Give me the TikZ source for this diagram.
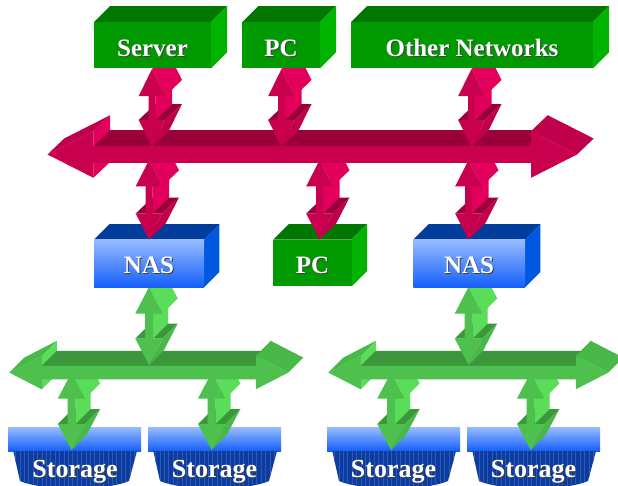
\documentclass[tikz,border=0pt]{standalone}
\usepackage{fontspec}
\setmainfont{Liberation Serif}
\definecolor{mgfront}{RGB}{200,0,78}
\definecolor{mgdark}{RGB}{153,0,58}
\definecolor{mglight}{RGB}{226,0,92}
\definecolor{mgmid}{RGB}{192,0,74}
\definecolor{gnfront}{RGB}{77,192,77}
\definecolor{gndark}{RGB}{60,150,60}
\definecolor{gnlight}{RGB}{90,222,90}
\definecolor{gnmid}{RGB}{72,184,72}
\definecolor{boxfront}{RGB}{0,153,0}
\definecolor{boxtop}{RGB}{0,119,0}
\definecolor{boxside}{RGB}{0,179,0}
\definecolor{nastop}{RGB}{0,60,156}
\definecolor{nasside}{RGB}{0,88,224}
\definecolor{nashi}{RGB}{152,188,255}
\definecolor{naslo}{RGB}{20,95,250}
\definecolor{stdark}{RGB}{12,60,158}
\definecolor{ststripe}{RGB}{45,88,185}
\newcommand\vdarrow[9]{%
 \fill[#9dark] ({#1-#5},{#3-#4}) -- ({#1+#5},{#3-#4}) -- ({#1+#5+#7},{#3-#4-#8}) -- ({#1-#5+#7},{#3-#4-#8}) -- cycle;
 \fill[#9light] ({#1+#6},{#2+#4}) -- ({#1+#6},{#3-#4}) -- ({#1+#6+#7},{#3-#4-#8}) -- ({#1+#6+#7},{#2+#4-#8}) -- cycle;
 \fill[#9light] (#1,#2) -- ({#1+#5},{#2+#4}) -- ({#1+#5+#7},{#2+#4-#8}) -- ({#1+#7},{#2-#8}) -- cycle;
 \fill[#9mid] ({#1+#5},{#3-#4}) -- (#1,#3) -- ({#1+#7},{#3-#8}) -- ({#1+#5+#7},{#3-#4-#8}) -- cycle;
 \fill[#9front] (#1,#2) -- ({#1+#5},{#2+#4}) -- ({#1+#6},{#2+#4}) -- ({#1+#6},{#3-#4}) -- ({#1+#5},{#3-#4}) -- (#1,#3) -- ({#1-#5},{#3-#4}) -- ({#1-#6},{#3-#4}) -- ({#1-#6},{#2+#4}) -- ({#1-#5},{#2+#4}) -- cycle;
}
\newcommand\hdarrow[9]{%
 \fill[#9light] ({#1+#4},{#3-#5}) -- ({#1+#4+#7},{#3-#5-#8}) -- ({#1+#4+#7},{#3+#5-#8}) -- ({#1+#4},{#3+#5}) -- cycle;
 \fill[#9dark] ({#1+#4},{#3-#6}) -- ({#2-#4},{#3-#6}) -- ({#2-#4+#7},{#3-#6-#8}) -- ({#1+#4+#7},{#3-#6-#8}) -- cycle;
 \fill[#9mid] (#1,#3) -- ({#1+#4},{#3-#5}) -- ({#1+#4+#7},{#3-#5-#8}) -- ({#1+#7},{#3-#8}) -- cycle;
 \fill[#9mid] ({#2-#4},{#3-#5}) -- (#2,#3) -- ({#2+#7},{#3-#8}) -- ({#2-#4+#7},{#3-#5-#8}) -- cycle;
 \fill[#9front] (#1,#3) -- ({#1+#4},{#3-#5}) -- ({#1+#4},{#3-#6}) -- ({#2-#4},{#3-#6}) -- ({#2-#4},{#3-#5}) -- (#2,#3) -- ({#2-#4},{#3+#5}) -- ({#2-#4},{#3+#6}) -- ({#1+#4},{#3+#6}) -- ({#1+#4},{#3+#5}) -- cycle;
}
\newcommand\boxthree[8]{%
 \fill[#7] (#1,#2) -- (#3,#2) -- ({#3+#5},{#2-#5}) -- ({#1+#5},{#2-#5}) -- cycle;
 \fill[#8] (#3,#2) -- ({#3+#5},{#2-#5}) -- ({#3+#5},{#4-#5}) -- (#3,#4) -- cycle;
 \path[#6] (#1,#2) rectangle (#3,#4);
}
\newcommand\storagebox[2]{%
 \shade[top color=nashi, bottom color=naslo] (#1,427) rectangle (#2,451);
 \begin{scope}
  \clip ({#1+5.3},451) -- ({#1+12},481) .. controls ({#1+35},491) and ({#2-35},491) .. ({#2-12},481) -- ({#2-4},451) -- cycle;
  \fill[stdark] (#1,451) rectangle (#2,495);
  \foreach \k in {0,...,30} \draw[ststripe, line width=0.3pt] ({#1+3+\k*4.4},451) -- ++(0,44);
 \end{scope}
}
\tikzset{
 lbl/.style={font=\fontsize{25}{30}\selectfont\bfseries, text=white, inner sep=0pt, anchor=base},
 shd/.style={lbl, text=black!75},
 stlbl/.style={lbl, font=\fontsize{26}{30}\selectfont\bfseries},
 stshd/.style={stlbl, text=black!75},
 gfront/.style={fill=boxfront},
 nfront/.style={top color=nashi, bottom color=naslo}
}
\begin{document}
\begin{tikzpicture}[x=1pt, y=-1pt]
\useasboundingbox (0,0) rectangle (618,485);
\clip (0,0) rectangle (618,485);
\fill[white] (0,0) rectangle (618,485);
% storage
\storagebox{8}{141}
\storagebox{148}{281}
\storagebox{327}{460}
\storagebox{467}{600}
% lower green arrows
\vdarrow{71.5}{372.5}{450}{26}{13.7}{4}{15}{15}{gn}
\vdarrow{211.7}{372.5}{450}{26}{13.7}{4}{15}{15}{gn}
\vdarrow{391}{372.5}{450}{26}{13.7}{4}{15}{15}{gn}
\vdarrow{530.7}{372.5}{450}{26}{13.7}{4}{15}{15}{gn}
% green buses
\hdarrow{9.3}{288.3}{372.6}{32.5}{16.7}{6.7}{15}{15}{gn}
\hdarrow{328.3}{608.3}{372.6}{32.5}{16.7}{6.7}{15}{15}{gn}
% green upper arrows
\vdarrow{149}{287}{365}{26.5}{13.7}{4}{15}{15}{gn}
\vdarrow{468.5}{287}{365}{26.5}{13.7}{4}{15}{15}{gn}
% middle boxes
\boxthree{94}{239.5}{204}{287.3}{15.3}{nfront}{nastop}{nasside}
\boxthree{273.3}{239.5}{351.7}{286.3}{15.3}{gfront}{boxtop}{boxside}
\boxthree{413.3}{239.5}{525}{287.3}{15.3}{nfront}{nastop}{nasside}
% lower magenta arrows
\vdarrow{149}{160.3}{239.5}{26}{13.3}{3.5}{16.7}{16}{mg}
\vdarrow{319.5}{160.3}{239.5}{26}{13.3}{3.5}{16.7}{16}{mg}
\vdarrow{468.5}{160.3}{239.5}{26}{13.3}{3.5}{16.7}{16}{mg}
% magenta bus
\hdarrow{47.5}{577}{154.5}{46}{23.3}{8.3}{16.7}{16}{mg}
% upper magenta arrows
\vdarrow{152}{69}{147}{27}{13.3}{3.5}{16.7}{16}{mg}
\vdarrow{281.5}{69}{147}{27}{13.3}{3.5}{16.7}{16}{mg}
\vdarrow{471.5}{69}{147}{27}{13.3}{3.5}{16.7}{16}{mg}
% top boxes
\boxthree{94}{22}{211}{68.3}{16}{gfront}{boxtop}{boxside}
\boxthree{242.3}{22}{320}{68.3}{16}{gfront}{boxtop}{boxside}
\boxthree{351}{22}{593}{68.3}{16}{gfront}{boxtop}{boxside}
% labels
\node[shd] (serverS) at (153.5,57.5) {Server};
\node[lbl] (server) at (152.5,56.5) {Server};
\node[shd] (pcaS) at (282,57.5) {PC};
\node[lbl] (pca) at (281,56.5) {PC};
\node[shd] (otherS) at (473,57.5) {Other Networks};
\node[lbl] (other) at (472,56.5) {Other Networks};
\node[shd] (nasaS) at (150,274.3) {NAS};
\node[lbl] (nasa) at (149,273.3) {NAS};
\node[shd] (pcbS) at (313.5,274.3) {PC};
\node[lbl] (pcb) at (312.5,273.3) {PC};
\node[shd] (nasbS) at (470,274.3) {NAS};
\node[lbl] (nasb) at (469,273.3) {NAS};
\node[stshd] (staS) at (76,478.5) {Storage};
\node[stlbl] (sta) at (75,477.5) {Storage};
\node[stshd] (stbS) at (215.5,478.5) {Storage};
\node[stlbl] (stb) at (214.5,477.5) {Storage};
\node[stshd] (stcS) at (394.5,478.5) {Storage};
\node[stlbl] (stc) at (393.5,477.5) {Storage};
\node[stshd] (stdS) at (534.5,478.5) {Storage};
\node[stlbl] (std) at (533.5,477.5) {Storage};
\end{tikzpicture}
\end{document}
